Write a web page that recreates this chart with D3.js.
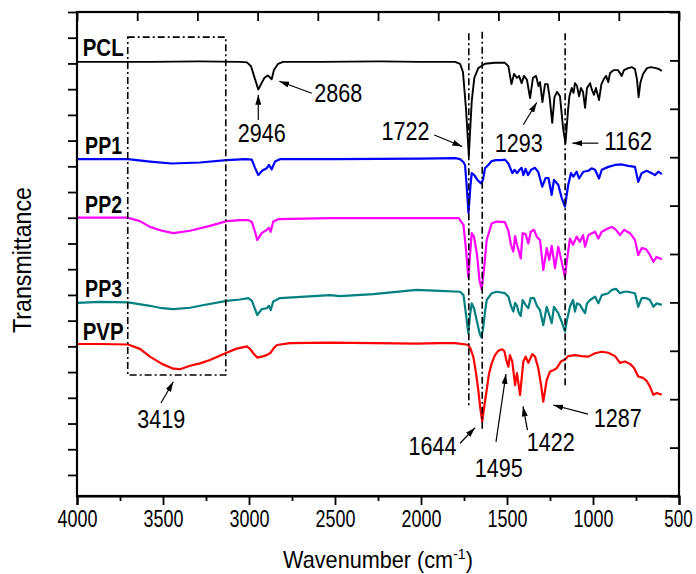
<!DOCTYPE html>
<html><head><meta charset="utf-8">
<script src="https://cdn.jsdelivr.net/npm/d3@7"></script>
<style>
body{margin:0;background:#fff}
text{font-family:"Liberation Sans",Arial,sans-serif;fill:#000}
</style></head>
<body><svg id="c" width="696" height="574"></svg>
<script>
// ---------- data (wavenumber cm-1, transmittance a.u.) ----------
const xTicks = [4000,3500,3000,2500,2000,1500,1000,500];
const xMinor = [3750,3250,2750,2250,1750,1250,750];
const seriesNames = ["PCL","PP1","PP2","PP3","PVP"];
const seriesColors = ["#000000","#0000ff","#ff00ff","#008080","#ff0000"];

const pcl = [[4000,89.7],[3576,89.7],[3285,89.8],[3052,89.7],[3012,89.6],[2988,88.8],[2971,86.8],[2946,84.0],[2930,85.1],[2910,86.4],[2890,86.9],[2868,86.1],[2855,88.0],[2831,89.3],[2802,89.7],[2587,89.7],[2238,89.8],[2006,89.7],[1802,89.7],[1773,89.3],[1756,87.6],[1738,79.8],[1722,70.3],[1705,81.6],[1690,86.4],[1667,88.4],[1628,89.3],[1570,89.5],[1512,89.5],[1492,88.8],[1474,85.1],[1459,87.2],[1442,86.4],[1430,86.8],[1415,85.3],[1401,86.8],[1384,86.0],[1366,82.2],[1349,86.4],[1331,86.8],[1317,84.7],[1308,85.5],[1294,81.4],[1279,85.1],[1264,85.1],[1253,82.6],[1237,77.1],[1224,82.4],[1209,83.5],[1192,82.6],[1174,76.0],[1160,72.9],[1145,79.8],[1137,82.6],[1124,84.3],[1113,83.3],[1105,85.3],[1093,84.7],[1081,82.6],[1070,84.3],[1058,83.5],[1046,80.2],[1035,84.3],[1017,85.3],[1006,83.9],[994,82.9],[983,84.3],[965,81.8],[951,85.1],[936,86.2],[924,86.8],[911,85.5],[901,87.4],[878,88.0],[855,88.0],[833,86.8],[820,88.0],[796,88.4],[773,88.6],[756,88.2],[744,86.0],[735,82.4],[724,85.5],[709,87.2],[686,88.4],[663,88.6],[634,88.4],[616,88.2],[600,87.8]];

const pp1 = [[4000,69.6],[3866,69.6],[3703,69.6],[3576,69.1],[3449,68.7],[3285,68.9],[3130,69.4],[3023,69.6],[2984,69.5],[2965,67.8],[2946,66.3],[2924,67.2],[2897,67.7],[2884,68.4],[2868,67.5],[2849,69.1],[2820,69.6],[2500,69.6],[2000,69.7],[1800,69.8],[1773,69.6],[1754,69.0],[1744,68.4],[1735,64.3],[1724,58.5],[1712,64.3],[1705,66.7],[1690,66.3],[1672,65.3],[1651,64.6],[1640,65.3],[1628,67.7],[1609,68.4],[1589,69.2],[1564,69.4],[1531,69.4],[1512,69.5],[1492,68.7],[1469,66.7],[1456,67.4],[1442,66.7],[1427,67.4],[1415,67.8],[1405,66.3],[1392,67.6],[1378,66.3],[1360,67.4],[1337,67.8],[1318,66.9],[1295,63.9],[1276,65.7],[1259,65.7],[1240,62.2],[1227,65.3],[1202,64.3],[1182,61.6],[1163,59.8],[1144,64.3],[1128,66.7],[1114,66.0],[1095,67.0],[1081,65.6],[1056,67.0],[1027,67.2],[1008,67.7],[988,67.4],[965,65.6],[949,67.4],[911,68.0],[872,68.4],[833,68.5],[795,68.2],[756,68.0],[737,64.9],[717,66.7],[688,67.2],[659,66.7],[640,66.3],[620,67.0],[600,66.5]];

const pp2 = [[4000,57.5],[3866,57.5],[3703,57.5],[3634,56.8],[3576,55.6],[3506,54.8],[3440,54.3],[3343,54.8],[3227,55.8],[3130,56.8],[3052,57.0],[3004,57.0],[2983,56.6],[2965,54.6],[2952,52.9],[2926,54.3],[2897,55.0],[2884,55.4],[2874,54.6],[2859,56.7],[2830,57.2],[2529,57.4],[2000,57.4],[1780,57.4],[1773,57.0],[1753,56.0],[1738,50.8],[1725,45.2],[1715,49.8],[1705,54.3],[1692,53.6],[1674,49.8],[1660,44.6],[1647,42.7],[1634,46.7],[1618,52.9],[1589,56.3],[1560,56.7],[1512,56.6],[1492,54.8],[1477,51.9],[1463,50.5],[1453,53.7],[1442,51.9],[1433,50.8],[1420,49.1],[1409,54.3],[1392,54.1],[1376,52.2],[1362,54.6],[1343,55.0],[1326,53.5],[1308,52.9],[1289,46.7],[1269,51.2],[1254,48.8],[1240,51.7],[1221,47.1],[1202,51.5],[1182,48.4],[1163,45.2],[1151,48.8],[1134,53.2],[1116,51.9],[1095,53.6],[1076,52.5],[1058,53.9],[1046,51.5],[1027,53.9],[1006,54.3],[988,54.6],[969,53.2],[949,54.6],[911,55.3],[890,55.6],[866,55.0],[843,53.9],[820,55.0],[785,54.3],[756,52.9],[737,49.8],[717,51.2],[692,51.0],[669,49.8],[649,48.4],[630,49.4],[600,48.9]];

const pp3 = [[4000,39.9],[3866,40.1],[3703,40.0],[3576,39.3],[3506,38.8],[3440,38.6],[3343,38.9],[3285,39.3],[3130,40.3],[3052,40.6],[3004,40.9],[2983,40.3],[2965,38.6],[2952,37.4],[2926,38.6],[2897,38.8],[2884,39.3],[2874,38.4],[2859,40.2],[2820,40.9],[2529,41.5],[2471,41.3],[2277,41.7],[2025,42.6],[1890,42.4],[1773,42.2],[1753,41.5],[1738,37.4],[1725,33.6],[1715,37.4],[1705,39.8],[1692,38.8],[1674,36.0],[1660,33.7],[1651,32.9],[1640,34.3],[1628,38.0],[1618,40.5],[1589,41.9],[1560,42.2],[1512,41.9],[1492,41.2],[1477,39.3],[1463,38.1],[1453,39.9],[1442,39.3],[1433,38.0],[1420,37.2],[1409,40.5],[1392,39.5],[1376,38.8],[1362,40.9],[1343,40.9],[1326,39.3],[1308,38.4],[1289,35.3],[1269,39.1],[1254,37.4],[1240,35.7],[1227,39.1],[1202,37.8],[1182,36.0],[1163,34.0],[1151,36.4],[1134,39.1],[1116,40.5],[1105,38.1],[1093,39.8],[1076,39.5],[1058,38.4],[1046,37.8],[1035,39.8],[1017,40.5],[988,41.2],[969,39.8],[949,41.5],[911,41.9],[890,42.6],[866,42.8],[843,41.9],[820,42.2],[796,42.2],[756,41.9],[737,39.1],[717,40.9],[692,40.9],[669,40.5],[649,39.1],[630,39.8],[600,39.5]];

const pvp = [[4000,31.4],[3866,31.4],[3703,31.3],[3634,30.4],[3576,28.8],[3506,27.3],[3440,26.3],[3401,26.2],[3343,26.9],[3285,27.4],[3227,28.1],[3130,29.6],[3076,30.4],[3013,30.9],[2994,30.4],[2975,29.5],[2952,28.6],[2926,28.8],[2897,29.1],[2874,29.6],[2855,30.6],[2837,31.2],[2762,31.6],[2529,31.7],[2277,31.6],[2025,31.5],[1890,31.6],[1802,31.6],[1738,31.3],[1725,31.2],[1712,30.4],[1696,28.8],[1680,25.4],[1667,21.9],[1654,17.8],[1644,15.4],[1631,18.8],[1618,21.9],[1605,25.2],[1589,27.4],[1570,29.1],[1551,30.0],[1529,30.3],[1516,30.0],[1502,27.8],[1492,26.7],[1483,29.1],[1469,27.7],[1453,22.9],[1442,25.4],[1424,20.9],[1405,27.8],[1391,28.8],[1376,27.5],[1353,29.3],[1337,28.8],[1318,26.4],[1302,22.9],[1289,19.5],[1269,24.0],[1250,25.7],[1231,26.0],[1211,26.4],[1186,27.8],[1163,28.2],[1144,28.9],[1105,29.1],[1066,28.9],[1027,28.8],[988,29.5],[949,29.8],[911,29.6],[872,28.9],[843,27.5],[814,27.8],[785,27.3],[762,26.5],[737,24.7],[709,24.4],[688,23.8],[669,22.6],[649,20.9],[628,21.3],[600,20.9]];

const seriesData = [pcl, pp1, pp2, pp3, pvp];
const seriesLabelAt = [[3967,90.9],[3953,70.7],[3953,58.4],[3953,41.1],[3967,32.2]];

// peak annotations: label anchor (wn, T) and arrow from -> to (wn, T)
const peakLabels = [
 {t:"2946", w:2926, v:73.2, a:[2946,77.7,2946,82.9]},
 {t:"2868", w:2481, v:81.5, a:[2635,83.2,2824,85.7]},
 {t:"1722", w:2090, v:73.6, a:[1923,74.6,1760,72.2]},
 {t:"1293", w:1431, v:71.1, a:[1405,76.7,1327,81.3]},
 {t:"1162", w:795,  v:71.5, a:[969,72.9,1120,72.9]},
 {t:"3419", w:3510, v:14.0, a:[3512,19.2,3440,23.6]},
 {t:"1644", w:1933, v:8.5,  a:[1773,10.9,1686,14.1]},
 {t:"1495", w:1548, v:4.0,  a:[1564,11.2,1506,25.2]},
 {t:"1422", w:1245, v:9.2,  a:[1381,13.6,1407,18.5]},
 {t:"1287", w:856,  v:14.3, a:[1029,16.9,1231,18.8]}
];
const boxRegion = {w0:3705, w1:3135, v0:25.0, v1:94.8};
const refLines = [[1722,95.6,18.2],[1644,95.9,13.3],[1162,95.6,22.3]];

// ---------- drawing ----------
const M = {l:77, r:679, t:12, b:496};
const svg = d3.select("#c");
const x = d3.scaleLinear().domain([4000,500]).range([M.l, M.r]);
const y = d3.scaleLinear().domain([0,100]).range([M.b, M.t]);

svg.append("defs").append("marker")
  .attr("id","ah").attr("viewBox","0 0 10 6").attr("refX",10).attr("refY",3)
  .attr("markerWidth",10).attr("markerHeight",6).attr("markerUnits","userSpaceOnUse")
  .attr("orient","auto")
  .append("path").attr("d","M0,0L10,3L0,6Z").attr("fill","#000");

// spectra
const line = d3.line().x(d=>x(d[0])).y(d=>y(d[1]));
seriesData.forEach((s,i)=>{
  svg.append("path").datum(s).attr("d",line)
    .attr("fill","none").attr("stroke",seriesColors[i])
    .attr("stroke-width", i===0?1.9:2.2).attr("stroke-linejoin","round");
});

// dash-dot box and reference lines
const dd = "7,3,2,3";
svg.append("rect")
  .attr("x",x(boxRegion.w0)).attr("y",y(boxRegion.v1))
  .attr("width",x(boxRegion.w1)-x(boxRegion.w0)).attr("height",y(boxRegion.v0)-y(boxRegion.v1))
  .attr("fill","none").attr("stroke","#000").attr("stroke-width",1.6).attr("stroke-dasharray",dd);
refLines.forEach(r=>{
  svg.append("line").attr("x1",x(r[0])).attr("x2",x(r[0]))
    .attr("y1",y(r[1])).attr("y2",y(r[2]))
    .attr("stroke","#000").attr("stroke-width",1.6).attr("stroke-dasharray",dd);
});

// axes
const gB = svg.append("g").attr("transform",`translate(0,${M.b})`)
  .call(d3.axisBottom(x).tickValues(xTicks).tickSize(9).tickPadding(5).tickFormat(d3.format("d")));
const gBm = svg.append("g").attr("transform",`translate(0,${M.b})`)
  .call(d3.axisBottom(x).tickValues(xMinor).tickSize(5).tickFormat(""));
const gT = svg.append("g").attr("transform",`translate(0,${M.t})`)
  .call(d3.axisTop(x).tickValues(d3.range(0,11).map(k=>4000-350*k)).tickSize(-9).tickFormat(""));
const leftTicks = d3.range(0,19).map(k=>100-5.314*k);
const gL = svg.append("g").attr("transform",`translate(${M.l},0)`)
  .call(d3.axisLeft(y).tickValues(leftTicks).tickSize(9).tickFormat(""));
const gR = svg.append("g").attr("transform",`translate(${M.r},0)`)
  .call(d3.axisRight(y).tickValues(d3.range(0,101,10)).tickSize(-9).tickFormat(""));
[gB,gBm,gT,gL,gR].forEach(g=>{
  g.select(".domain").attr("stroke","#000").attr("stroke-width",2.2);
  g.selectAll(".tick line").attr("stroke","#000").attr("stroke-width",1.8);
});
[gBm,gT,gL,gR].forEach(g=>g.select(".domain").remove());
// full frame
svg.append("rect").attr("x",M.l).attr("y",M.t).attr("width",M.r-M.l).attr("height",M.b-M.t)
  .attr("fill","none").attr("stroke","#000").attr("stroke-width",2.2);
gB.selectAll(".tick text").attr("font-size",23).attr("fill","#000")
  .attr("font-family","Liberation Sans, Arial, sans-serif")
  .attr("dy","0.72em")
  .attr("transform",d=>d===500?"translate(-1,0) scale(0.74,1)":"scale(0.78,1)");

// series labels
seriesNames.forEach((n,i)=>{
  svg.append("text").attr("x",x(seriesLabelAt[i][0])).attr("y",y(seriesLabelAt[i][1]))
    .attr("font-size",24).attr("font-weight","bold")
    .attr("textLength", n==="PCL"||n==="PVP"?41:37).attr("lengthAdjust","spacingAndGlyphs")
    .text(n);
});

// peak labels with arrows
peakLabels.forEach(p=>{
  svg.append("line").attr("x1",x(p.a[0])).attr("y1",y(p.a[1]))
    .attr("x2",x(p.a[2])).attr("y2",y(p.a[3]))
    .attr("stroke","#000").attr("stroke-width",1.2).attr("marker-end","url(#ah)");
  svg.append("text").attr("x",x(p.w)).attr("y",y(p.v)).attr("text-anchor","middle")
    .attr("font-size",25).attr("textLength",48).attr("lengthAdjust","spacingAndGlyphs")
    .text(p.t);
});

// axis titles
const xt = svg.append("text").attr("text-anchor","middle").attr("font-size",23);
xt.append("tspan").text("Wavenumber (cm");
xt.append("tspan").attr("font-size",15).attr("dy",-9).text("-1");
xt.append("tspan").attr("dy",9).text(")");
const sx = 190 / xt.node().getBBox().width;
xt.attr("transform",`translate(${(M.l+M.r)/2},568) scale(${sx},1)`);

svg.append("text").attr("text-anchor","middle").attr("font-size",25)
  .attr("transform",`translate(31,260) rotate(-90)`)
  .attr("textLength",146).attr("lengthAdjust","spacingAndGlyphs")
  .text("Transmittance");
</script></body></html>
